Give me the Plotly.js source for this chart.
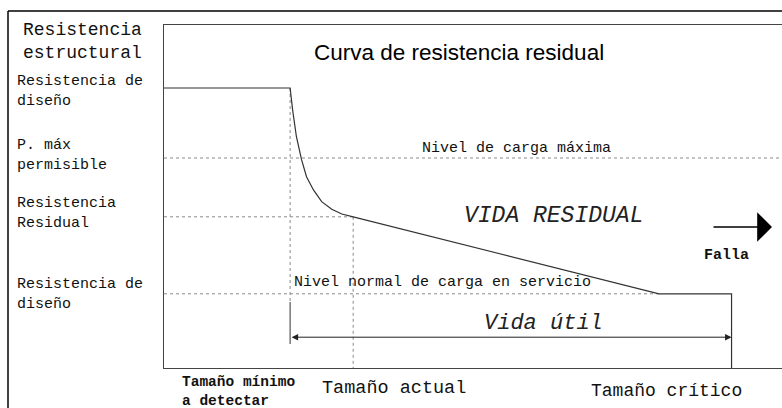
<!DOCTYPE html>
<html><head><meta charset="utf-8">
<script src="https://cdn.plot.ly/plotly-3.0.1.min.js"></script>
<style>html,body{margin:0;padding:0;background:#fff}</style>
</head><body><div id="chart" style="width:782px;height:408px"></div>
<script>
// ---- data (schematic units: crack size vs structural resistance) ----
const crackSize  = [0, 2, 2.04, 2.10, 2.18, 2.26, 2.37, 2.50, 2.66, 2.82, 3, 7.85, 9, 9];
const resistance = [10, 10, 9.21, 8.26, 7.45, 6.83, 6.36, 5.94, 5.67, 5.5, 5.4, 2.65, 2.65, 0];
const levelValues = [10, 7.5, 5.4, 2.65];           // diseño, P. máx, residual, servicio
const levelLabels = ['Resistencia de<br>diseño', 'P. máx<br>permisible', 'Resistencia<br>Residual', 'Resistencia de<br>diseño'];
const sizeValues = [2, 3, 9];                      // mínimo, actual, crítico
const sizeLabels = ['Tamaño mínimo<br>a detectar', 'Tamaño actual', 'Tamaño crítico'];
const serviceEnd = 7.85;                           // where residual curve reaches service load
const xMax = 9.8, yMax = 12.25;

// ---- layout helpers (pixel -> paper) ----
const L = 164, T = 25, W = 618, H = 343;
const X = p => (p - L) / W;
const Y = p => (T + H - p) / H;
const mono = 'Liberation Mono, Courier New, monospace';

const ann = [];
function addText(text, x, y, size, extraFont, opts) {
  ann.push(Object.assign({
    xref: 'paper', yref: 'paper', x: X(x), y: Y(y),
    text: text, showarrow: false, xanchor: 'left', yanchor: 'middle', align: 'left', borderpad: 0,
    font: Object.assign({family: mono, size: size, color: '#111'}, extraFont || {})
  }, opts || {}));
}

// y-axis title
addText('Resistencia<br>estructural', 22, 41, 18);
// level labels
const levelLabelY = [91, 155, 213, 294];
levelLabels.forEach((t, i) => addText(t, 16, levelLabelY[i], 15));
// size labels
addText(sizeLabels[0], 181, 391, 14.5, {weight: 'bold'});
addText(sizeLabels[1], 321, 388, 18.5);
addText(sizeLabels[2], 590, 391, 18);
// inner texts
addText('Nivel de carga máxima', 421, 148, 15);
addText('Nivel normal de carga en servicio', 293, 282, 15);
addText('Falla', 703, 255, 15, {weight: 'bold'});
addText('VIDA RESIDUAL', 463, 216, 23, {style: 'italic', color: '#222'});
addText('Vida útil', 483, 323, 22, {style: 'italic', color: '#222'});
ann.push({xref: 'paper', yref: 'paper', x: X(459), y: Y(52), text: 'Curva de resistencia residual',
  showarrow: false, xanchor: 'center', yanchor: 'middle',
  font: {family: 'Liberation Sans, Arial, sans-serif', size: 22.5, color: '#000'}});

// dimension arrow (vida útil) between minimum and critical size
ann.push({xref: 'x', yref: 'y', axref: 'x', ayref: 'y', x: sizeValues[2], y: 1.1, ax: sizeValues[0], ay: 1.1,
  text: '', showarrow: true, arrowside: 'end+start', arrowhead: 2, startarrowhead: 2,
  arrowsize: 1.3, startarrowsize: 1.3, arrowwidth: 1, arrowcolor: '#222', standoff: 0, startstandoff: 0});
// falla arrow
ann.push({xref: 'paper', yref: 'paper', axref: 'paper', ayref: 'paper', x: X(772), y: Y(227), ax: X(712), ay: Y(227),
  text: '', showarrow: true, arrowhead: 1, arrowsize: 3.8, arrowwidth: 1.3, arrowcolor: '#000', standoff: 0});

const dot = {color: '#8a8a8a', width: 1, dash: 'dot'};
const traces = [
  {x: [0, xMax], y: [levelValues[1], levelValues[1]], mode: 'lines', line: dot},
  {x: [0, sizeValues[1]], y: [levelValues[2], levelValues[2]], mode: 'lines', line: dot},
  {x: [0, serviceEnd], y: [levelValues[3], levelValues[3]], mode: 'lines', line: dot},
  {x: [sizeValues[0], sizeValues[0]], y: [levelValues[0], 2.36], mode: 'lines', line: dot},
  {x: [sizeValues[1], sizeValues[1]], y: [levelValues[2], 0], mode: 'lines', line: dot},
  {x: crackSize, y: resistance, mode: 'lines', line: {color: '#333', width: 1.2}}
];

const shapes = [
  // outer frame
  {type: 'line', xref: 'paper', yref: 'paper', x0: X(8), x1: X(8), y0: Y(11), y1: Y(420), line: {color: '#000', width: 1.5}},
  {type: 'line', xref: 'paper', yref: 'paper', x0: X(8), x1: X(800), y0: Y(11), y1: Y(11), line: {color: '#000', width: 1.5}},
  // extension line of dimension at minimum size
  {type: 'line', xref: 'x', yref: 'y', x0: sizeValues[0], x1: sizeValues[0], y0: 2.36, y1: 0.86, line: {color: '#555', width: 1.2}}
];

const layout = {
  width: 782, height: 408,
  margin: {l: L, r: 0, t: T, b: 408 - T - H, pad: 0},
  paper_bgcolor: '#fff', plot_bgcolor: '#fff',
  showlegend: false,
  xaxis: {range: [0, xMax], showgrid: false, zeroline: false, showticklabels: false, ticks: '',
          showline: true, linecolor: '#444', linewidth: 1, mirror: true},
  yaxis: {range: [0, yMax], showgrid: false, zeroline: false, showticklabels: false, ticks: '',
          showline: true, linecolor: '#444', linewidth: 1},
  annotations: ann, shapes: shapes
};
Plotly.newPlot('chart', traces, layout, {displayModeBar: false, staticPlot: true});
</script></body></html>
